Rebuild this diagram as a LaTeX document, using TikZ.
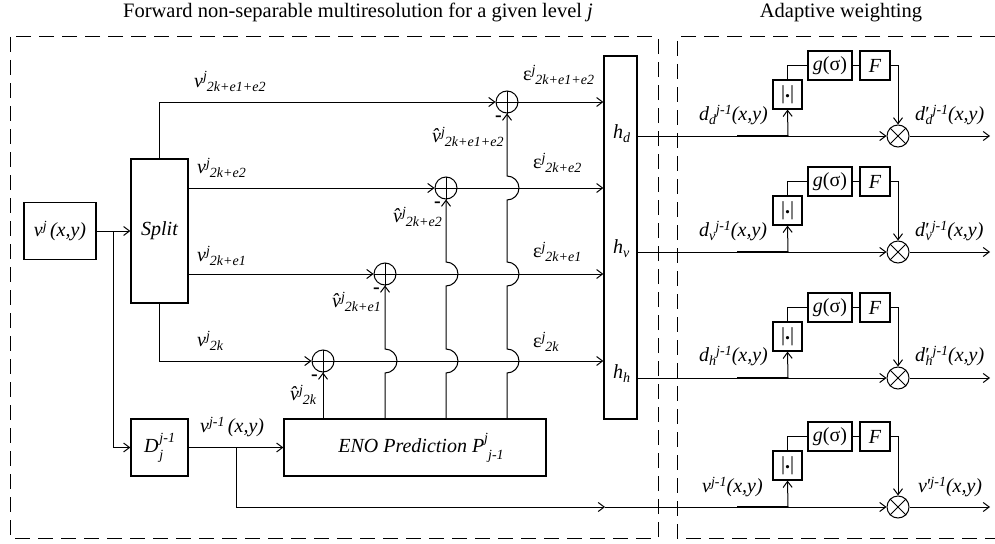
\documentclass[tikz,border=0pt]{standalone}
\usepackage{fontspec}
\setmainfont{Liberation Serif}
\usetikzlibrary{arrows.meta}
\newcommand\Sp[1]{\raisebox{6pt}{\fontsize{14}{16}\selectfont #1}}
\newcommand\Sb[1]{\raisebox{-4pt}{\fontsize{14}{16}\selectfont #1}}
\newcommand\Spp[1]{\raisebox{10pt}{\fontsize{14}{16}\selectfont #1}}
\newcommand\Sbb[1]{\raisebox{-7pt}{\fontsize{14}{16}\selectfont #1}}
\begin{document}
\begin{tikzpicture}[x=1pt,y=-1pt,
  font=\fontsize{20}{24}\selectfont,
  box/.style={draw, line width=1.2pt, inner sep=0pt, anchor=center},
  lbl/.style={anchor=base west, inner sep=0pt, font=\fontsize{20}{24}\selectfont\itshape},
  arr/.style={-{Straight Barb[length=6pt,width=9pt]}},
  ln/.style={line width=1pt},
  sumc/.style={circle, draw, line width=1pt, minimum size=22pt, inner sep=0pt},
  dsh/.style={dashed, dash pattern=on 15pt off 8pt, line width=1pt},
  minus/.style={anchor=base, inner sep=0pt, font=\fontsize{20}{20}\selectfont\bfseries}]
\useasboundingbox (0,0) rectangle (995,543);

% titles
\node[anchor=base, inner sep=0pt, font=\fontsize{20.5}{24}\selectfont] (ttl1) at (358,18) {Forward non-separable multiresolution for a given level \textit{j}};
\node[anchor=base, inner sep=0pt, font=\fontsize{20.5}{24}\selectfont] (ttl2) at (841,18) {Adaptive weighting};

% dashed frames
\draw[dsh] (10,37) rectangle (658,538);
\draw[dsh] (995,37) -- (677,37) -- (677,538) -- (995,538);

% blocks
\node[box, minimum width=72pt, minimum height=57pt] (vin) at (60,231) {\itshape v\Sp{j}\,(x,y)};
\node[box, minimum width=57pt, minimum height=144pt] (split) at (159.5,231) {\itshape Split};
\node[box, minimum width=57pt, minimum height=57pt] (D) at (159.5,447.5) {\itshape D\kern1pt\rlap{\Sbb{j}}\Spp{j-1}};
\node[box, minimum width=262pt, minimum height=57pt] (eno) at (415,447.5) {\itshape \hspace{12pt}ENO Prediction P\Spp{j}\Sbb{j-1}};
\node[box, minimum width=33pt, minimum height=363pt] (hb) at (620.5,237.5) {};

% sum circles
\node[sumc] (p1) at (507,102) {};
\node[sumc] (p2) at (446,188) {};
\node[sumc] (p3) at (385,274) {};
\node[sumc] (p4) at (323,361) {};
\foreach \p in {p1,p2,p3,p4}{
  \draw[ln] (\p.north) -- (\p.south) (\p.west) -- (\p.east);
}
\node[minus] (m1) at (498.5,121) {-};
\node[minus] (m2) at (437.5,207) {-};
\node[minus] (m3) at (376.5,293) {-};
\node[minus] (m4m) at (314.5,380) {-};

% left connections
\coordinate (b1) at (113,231);
\draw[ln,arr] (vin.east) -- (split.west);
\draw[ln,arr] (b1) |- (D.west);
\draw[ln,arr] (split.north) |- (p1.west);
\draw[ln,arr] (split.east |- p2) -- (p2.west);
\draw[ln,arr] (split.east |- p3) -- (p3.west);
\draw[ln,arr] (split.south) |- (p4.west);
\foreach \p in {p1,p2,p3,p4}{
  \draw[ln,arr] (\p.east) -- (hb.west |- \p);
}
\draw[ln,arr] (D.east) -- (eno.west);

% prediction verticals with humps
\draw[ln,arr] (eno.north -| p4) -- (p4.south);
\draw[ln,arr] (eno.north -| p3) -- (385,373) arc[start angle=90,end angle=-90,radius=12] -- (p3.south);
\draw[ln,arr] (eno.north -| p2) -- (446,373) arc[start angle=90,end angle=-90,radius=12]
   -- (446,286) arc[start angle=90,end angle=-90,radius=12] -- (p2.south);
\draw[ln,arr] (eno.north -| p1) -- (507,373) arc[start angle=90,end angle=-90,radius=12]
   -- (507,286) arc[start angle=90,end angle=-90,radius=12]
   -- (507,200) arc[start angle=90,end angle=-90,radius=12] -- (p1.south);

% left labels
\node[lbl] (l1) at (194,87) {v\Sp{j}\Sb{2k+e1+e2}};
\node[lbl] (l2) at (197,173) {v\Sp{j}\Sb{2k+e2}};
\node[lbl] (l3) at (197,261) {v\Sp{j}\Sb{2k+e1}};
\node[lbl] (l4) at (197,346) {v\Sp{j}\Sb{2k}};
\node[lbl] (e1) at (523,81) {\textup{ε}\Sp{j}\Sb{2k+e1+e2}};
\node[lbl] (e2) at (533,168) {\textup{ε}\Sp{j}\Sb{2k+e2}};
\node[lbl] (e3) at (533,257) {\textup{ε}\Sp{j}\Sb{2k+e1}};
\node[lbl] (e4) at (533,347) {\textup{ε}\Sp{j}\Sb{2k}};
\node[lbl] (q1) at (432,142) {\^{v}\Sp{j}\Sb{2k+e1+e2}};
\node[lbl] (q2) at (393,222) {\^{v}\Sp{j}\Sb{2k+e2}};
\node[lbl] (q3) at (332,307) {\^{v}\Sp{j}\Sb{2k+e1}};
\node[lbl] (q4) at (290,400) {\^{v}\Sp{j}\Sb{2k}};
\node[lbl] (lv) at (200,432) {v\Sp{j-1}\,(x,y)};
\node[lbl] (hd) at (613,138) {h\Sb{d}};
\node[lbl] (hv) at (613,253) {h\Sb{v}};
\node[lbl] (hh) at (613,378) {h\Sb{h}};

% bottom bypass
\coordinate (b2) at (236,447.5);
\coordinate (m4) at (605,507);
\draw[ln,arr] (b2) |- (m4);

% adaptive weighting rows
\foreach \y/\n in {136/1,252/2,378/3,507/4}{
  \node[box, minimum width=29pt, minimum height=29pt] (a\n) at (787.5,\y-41.5) {|\raisebox{2pt}{\textbf{.}}|};
  \node[box, minimum width=44pt, minimum height=29pt] (g\n) at (830,\y-70.5) {\textit{g}(σ)};
  \node[box, minimum width=30pt, minimum height=29pt] (f\n) at (875,\y-70.5) {\textit{F}};
  \node[sumc] (t\n) at (898,\y) {};
  \draw[ln] (t\n.north east) -- (t\n.south west) (t\n.north west) -- (t\n.south east);
  \coordinate (s\n) at (788,\y);
  \coordinate (o\n) at (990,\y);
  \draw[line width=2.2pt] (737,\y) -- (s\n);
  \draw[ln,arr] (s\n) -- (a\n.south);
  \draw[ln] (a\n.north) |- (g\n.west);
  \draw[ln] (g\n.east) -- (f\n.west);
  \draw[ln,arr] (f\n.east) -| (t\n.north);
  \draw[ln,arr] (t\n.east) -- (o\n);
}
\draw[ln,arr] (hb.east |- t1) -- (t1.west);
\draw[ln,arr] (hb.east |- t2) -- (t2.west);
\draw[ln,arr] (hb.east |- t3) -- (t3.west);
\draw[ln,arr] (m4) -- (t4.west);

% right labels
\node[lbl] (r1) at (699,120) {d\Sb{d}\Sp{j-1}(x,y)};
\node[lbl] (r2) at (699,236) {d\Sb{v}\Sp{j-1}(x,y)};
\node[lbl] (r3) at (699,361) {d\Sb{h}\Sp{j-1}(x,y)};
\node[lbl] (r4) at (702,492) {v\Sp{j-1}(x,y)};
\node[lbl] (w1) at (915,120) {d\textup{′}\kern-4pt\Sb{d}\Sp{j-1}(x,y)};
\node[lbl] (w2) at (915,236) {d\textup{′}\kern-4pt\Sb{v}\Sp{j-1}(x,y)};
\node[lbl] (w3) at (915,361) {d\textup{′}\kern-4pt\Sb{h}\Sp{j-1}(x,y)};
\node[lbl] (w4) at (918,492) {v\textup{′}\kern-1pt\Sp{j-1}(x,y)};
\end{tikzpicture}
\end{document}
